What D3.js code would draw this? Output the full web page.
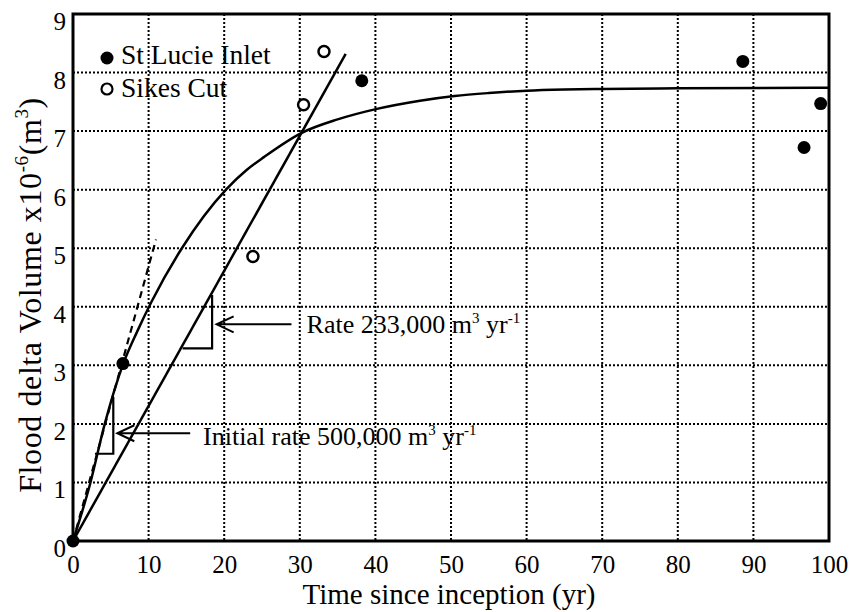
<!DOCTYPE html>
<html>
<head>
<meta charset="utf-8">
<script src="https://cdn.jsdelivr.net/npm/d3@7"></script>
<style>
  body { margin: 0; background: #fff; }
  svg text { font-family: "Liberation Serif", "Times New Roman", serif; fill: #000; }
</style>
</head>
<body>
<svg width="859" height="612" font-family="Liberation Serif"></svg>
<script>
// St Lucie Inlet (filled dots)
const stLucieYears = [0, 6.6, 38.2, 88.6, 96.7, 98.9];
const stLucieVolume = [0, 3.03, 7.86, 8.19, 6.72, 7.47];
// Sikes Cut (open dots)
const sikesYears = [23.8, 30.5, 33.2];
const sikesVolume = [4.86, 7.45, 8.36];
// fitted curve
const curveYears = [0, 2.25, 4.2, 6.65, 8.5, 10.4, 14.4, 20.3, 23, 25.3, 30.25, 35, 40.2, 45.9, 50.5, 55, 60, 65, 70, 80, 100];
const curveVolume = [0, 0.97, 2.0, 3.03, 3.58, 4.09, 5.0, 6.01, 6.34, 6.56, 6.97, 7.2, 7.38, 7.52, 7.6, 7.65, 7.69, 7.71, 7.72, 7.73, 7.74];
// straight rate lines
const rateYears = [0, 36.07];
const rateVolume = [0, 8.32];
const initialYears = [0, 10.98];
const initialVolume = [0, 5.15];
const xTicks = [0, 10, 20, 30, 40, 50, 60, 70, 80, 90, 100];
const yTicks = [0, 1, 2, 3, 4, 5, 6, 7, 8, 9];

const svg = d3.select("svg");
const plotLeft = 73, plotRight = 829, plotTop = 14, plotBottom = 541;

const x = d3.scaleLinear().domain([0, 100]).range([plotLeft, plotRight]);
const y = d3.scaleLinear().domain([0, 9]).range([plotBottom, plotTop]);

// dotted grid
svg.append("g")
	.selectAll("line")
	.data(xTicks.slice(1, -1))
	.enter()
	.append("line")
	.attr("x1", (d) => x(d)).attr("x2", (d) => x(d))
	.attr("y1", plotTop).attr("y2", plotBottom)
	.attr("stroke", "#000").attr("stroke-width", 2).attr("stroke-dasharray", "2,2");
svg.append("g")
	.selectAll("line")
	.data(yTicks.slice(1, -1))
	.enter()
	.append("line")
	.attr("y1", (d) => y(d)).attr("y2", (d) => y(d))
	.attr("x1", plotLeft).attr("x2", plotRight)
	.attr("stroke", "#000").attr("stroke-width", 2).attr("stroke-dasharray", "2,2");

// axes, labels only
const xAxis = svg.append("g")
	.attr("transform", `translate(0,${plotBottom})`)
	.call(d3.axisBottom(x).tickValues(xTicks).tickSize(0).tickPadding(14));
xAxis.select(".domain").remove();
xAxis.attr("font-family", "Liberation Serif");
xAxis.selectAll("text").attr("font-size", 25);

const yAxis = svg.append("g")
	.attr("transform", `translate(${plotLeft},0)`)
	.call(d3.axisLeft(y).tickValues(yTicks).tickSize(0).tickPadding(7));
yAxis.select(".domain").remove();
yAxis.attr("font-family", "Liberation Serif");
yAxis.selectAll("text").attr("font-size", 25).attr("dy", "0.62em");

// frame
svg.append("rect")
	.attr("x", plotLeft).attr("y", plotTop)
	.attr("width", plotRight - plotLeft).attr("height", plotBottom - plotTop)
	.attr("fill", "none").attr("stroke", "#000").attr("stroke-width", 3);

// curve and lines
const curve = d3.line().x((d) => x(d[0])).y((d) => y(d[1])).curve(d3.curveMonotoneX);
svg.append("path")
	.datum(d3.zip(curveYears, curveVolume))
	.attr("d", curve)
	.attr("fill", "none").attr("stroke", "#000").attr("stroke-width", 2.5);

const straight = d3.line().x((d) => x(d[0])).y((d) => y(d[1]));
svg.append("path")
	.datum(d3.zip(rateYears, rateVolume))
	.attr("d", straight)
	.attr("fill", "none").attr("stroke", "#000").attr("stroke-width", 2.5);
svg.append("path")
	.datum(d3.zip(initialYears, initialVolume))
	.attr("d", straight)
	.attr("fill", "none").attr("stroke", "#000").attr("stroke-width", 2.2)
	.attr("stroke-dasharray", "7,5");

// slope triangles
const triangles = [
	[[2.91, 1.49], [5.33, 1.49], [5.33, 2.46]],
	[[14.5, 3.29], [18.4, 3.29], [18.4, 4.2]],
];
svg.selectAll(".tri")
	.data(triangles)
	.enter()
	.append("path")
	.attr("d", (d) => straight(d))
	.attr("fill", "none").attr("stroke", "#000").attr("stroke-width", 2.2);

// arrows with open heads
function arrow(tipX, tipY, tailX) {
	const tx = x(tipX), ty = y(tipY), ex = x(tailX);
	svg.append("path")
		.attr("d", `M${ex},${ty}L${tx},${ty}M${tx + 17},${ty - 8}L${tx},${ty}L${tx + 17},${ty + 8}`)
		.attr("fill", "none").attr("stroke", "#000").attr("stroke-width", 2);
}
arrow(19.0, 3.70, 28.9);
arrow(5.86, 1.84, 15.5);

function rateLabel(px, py, text) {
	const t = svg.append("text")
		.attr("x", x(px)).attr("y", y(py))
		.attr("font-size", 26);
	t.append("tspan").text(text + " m");
	t.append("tspan").attr("font-size", 15).attr("dy", -10).text("3");
	t.append("tspan").attr("dy", 10).text(" yr");
	t.append("tspan").attr("font-size", 15).attr("dy", -10).text("-1");
}
rateLabel(30.9, 3.55, "Rate 233,000");
rateLabel(17.2, 1.64, "Initial rate 500,000");

// points
svg.selectAll(".lucie")
	.data(d3.zip(stLucieYears, stLucieVolume))
	.enter()
	.append("circle")
	.attr("cx", (d) => x(d[0])).attr("cy", (d) => y(d[1]))
	.attr("r", 6.5).attr("fill", "#000");
svg.selectAll(".sikes")
	.data(d3.zip(sikesYears, sikesVolume))
	.enter()
	.append("circle")
	.attr("cx", (d) => x(d[0])).attr("cy", (d) => y(d[1]))
	.attr("r", 5.5).attr("fill", "#fff").attr("stroke", "#000").attr("stroke-width", 2.5);

// legend
svg.append("circle").attr("cx", 107).attr("cy", 58).attr("r", 6.5).attr("fill", "#000");
svg.append("circle").attr("cx", 107).attr("cy", 89).attr("r", 5.5)
	.attr("fill", "#fff").attr("stroke", "#000").attr("stroke-width", 2.2);
svg.append("text").attr("x", 121).attr("y", 64).attr("font-size", 27.5).text("St Lucie Inlet");
svg.append("text").attr("x", 121).attr("y", 97).attr("font-size", 27.5).text("Sikes Cut");

// axis titles
svg.append("text")
	.attr("x", 449).attr("y", 604)
	.attr("text-anchor", "middle").attr("font-size", 29)
	.text("Time since inception (yr)");

const yt = svg.append("text")
	.attr("transform", "translate(41,295) rotate(-90)")
	.attr("text-anchor", "middle").attr("font-size", 32)
	.attr("letter-spacing", 0.6);
yt.append("tspan").text("Flood delta Volume x10");
yt.append("tspan").attr("font-size", 19).attr("dy", -13).text("-6");
yt.append("tspan").attr("dy", 13).text("(m");
yt.append("tspan").attr("font-size", 19).attr("dy", -13).text("3");
yt.append("tspan").attr("dy", 13).text(")");
</script>
</body>
</html>
